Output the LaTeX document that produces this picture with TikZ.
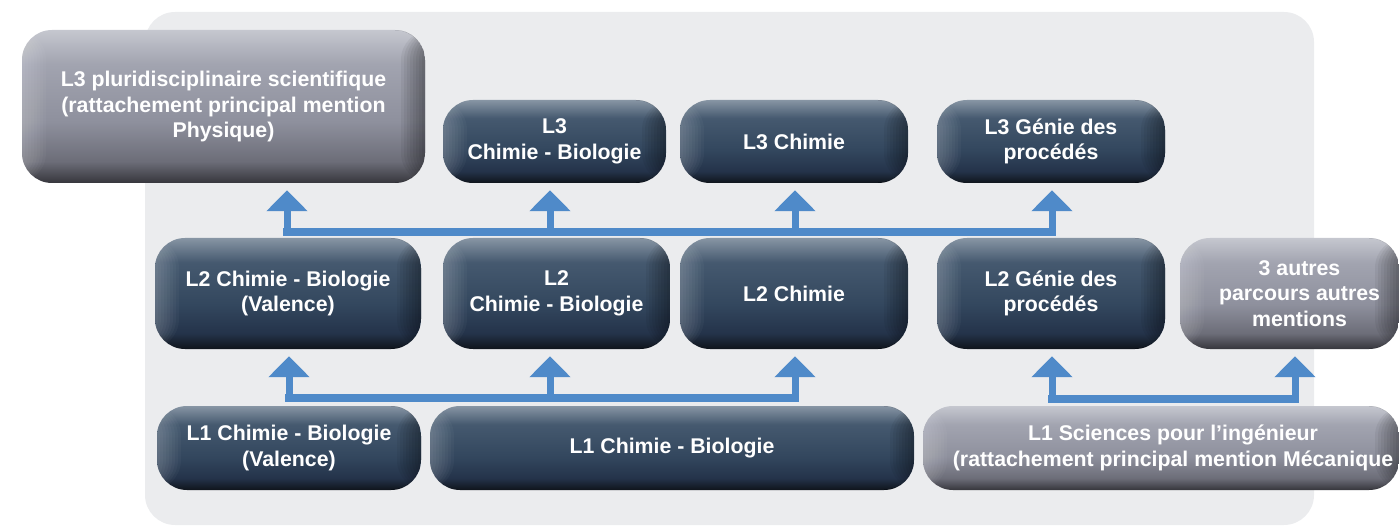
\documentclass[tikz,border=0pt]{standalone}
\usepackage{fontspec}
\setmainfont{Liberation Sans}
\usetikzlibrary{arrows.meta}

\definecolor{bgGrey}{HTML}{EBECEE}
\definecolor{arrowBlue}{HTML}{4F8AC9}
\definecolor{darkTop}{HTML}{8795A4}
\definecolor{darkUp}{HTML}{45596F}
\definecolor{darkMid}{HTML}{33475E}
\definecolor{darkLow}{HTML}{24334A}
\definecolor{darkBot}{HTML}{0F141B}
\definecolor{greyTop}{HTML}{C5C7CF}
\definecolor{greyUp}{HTML}{A2A4B0}
\definecolor{greyMid}{HTML}{8E909D}
\definecolor{greyLow}{HTML}{6C6D78}
\definecolor{greyBot}{HTML}{36363C}

\pgfdeclareverticalshading{darkbox}{100bp}{color(0bp)=(darkBot); color(25bp)=(darkBot); color(32bp)=(darkLow); color(45bp)=(darkMid); color(64bp)=(darkUp); color(75bp)=(darkTop); color(100bp)=(darkTop)}
\pgfdeclareverticalshading{greybox}{100bp}{color(0bp)=(greyBot); color(25bp)=(greyBot); color(32bp)=(greyLow); color(45bp)=(greyMid); color(64bp)=(greyUp); color(75bp)=(greyTop); color(100bp)=(greyTop)}

\tikzset{
  box/.style={rectangle, rounded corners=30pt, inner sep=0pt, align=center,
    text=white, font=\bfseries\fontsize{21.3}{25.5}\selectfont, edges},
  edges/.style={path picture={
    \foreach \i in {1,...,8}{
      \fill[white,opacity=0.03] (path picture bounding box.north west)
        rectangle ([xshift=\i*3pt]path picture bounding box.south west);
      \fill[black,opacity=0.05] (path picture bounding box.north east)
        rectangle ([xshift=-\i*3pt]path picture bounding box.south east);
    }}},
  dark/.style={box, shading=darkbox},
  grey/.style={box, shading=greybox},
  bar/.style={draw=arrowBlue, line width=8pt, line cap=rect},
  arr/.style={draw=arrowBlue, line width=7pt, -{Triangle[width=40pt,length=21pt]}, shorten >=7pt}
}

\begin{document}
\begin{tikzpicture}[x=1pt,y=-1pt]

%page
\useasboundingbox (0,0) rectangle (1399,526);
\clip (0,0) rectangle (1399,526);
\fill[bgGrey,rounded corners=30pt] (145,12) rectangle (1314,525);

%L3 row
\node[grey,minimum width=403pt,minimum height=153pt] (pluri) at (223.5,106.5)
  {L3 pluridisciplinaire scientifique\\(rattachement principal mention\\Physique)};
\node[dark,minimum width=223pt,minimum height=83pt] (l3cb) at (554.5,141.5) {L3\\Chimie - Biologie};
\node[dark,minimum width=228pt,minimum height=83pt] (l3ch) at (794,141.5) {L3 Chimie};
\node[dark,minimum width=228pt,minimum height=83pt] (l3g) at (1051,141.5) {L3 Génie des\\procédés};

%L2 row
\node[dark,minimum width=266pt,minimum height=111pt] (l2cbv) at (288,293.5) {L2 Chimie - Biologie\\(Valence)};
\node[dark,minimum width=227pt,minimum height=111pt] (l2cb) at (556.5,293.5) {L2\\Chimie - Biologie};
\node[dark,minimum width=228pt,minimum height=111pt] (l2ch) at (794,293.5) {L2 Chimie};
\node[dark,minimum width=228pt,minimum height=111pt] (l2g) at (1051,293.5) {L2 Génie des\\procédés};
\node[grey,minimum width=219pt,minimum height=111pt] (autres) at (1289.5,293.5)
  {\hspace*{20pt}3 autres\\\hspace*{20pt}parcours autres\\\hspace*{20pt}mentions};

%L1 row
\node[dark,minimum width=264pt,minimum height=84pt] (l1cbv) at (289,448) {L1 Chimie - Biologie\\(Valence)};
\node[dark,minimum width=484pt,minimum height=84pt] (l1cb) at (672,448) {L1 Chimie - Biologie};
\node[grey,minimum width=476pt,minimum height=84pt] (l1spi) at (1161,448)
  {\hspace*{24pt}L1 Sciences pour l’ingénieur\\\hspace*{24pt}(rattachement principal mention Mécanique};

%bars
\coordinate (t1) at (287,232);
\coordinate (t4) at (1052,232);
\coordinate (m1) at (289,398);
\coordinate (m3) at (795,398);
\coordinate (r1) at (1052,399);
\coordinate (r2) at (1295,399);
\draw[bar] (t1) -- (t4);
\draw[bar] (m1) -- (m3);
\draw[bar] (r1) -- (r2);

%arrows
\foreach \x/\tgt in {287/pluri,550/l3cb,795/l3ch,1052/l3g}
  \draw[arr] (\x,232) -- (\x,232 |- \tgt.south);
\foreach \x/\tgt in {289/l2cbv,550/l2cb,795/l2ch}
  \draw[arr] (\x,398) -- (\x,398 |- \tgt.south);
\foreach \x/\tgt in {1052/l2g,1295/autres}
  \draw[arr] (\x,399) -- (\x,399 |- \tgt.south);

\end{tikzpicture}
\end{document}
